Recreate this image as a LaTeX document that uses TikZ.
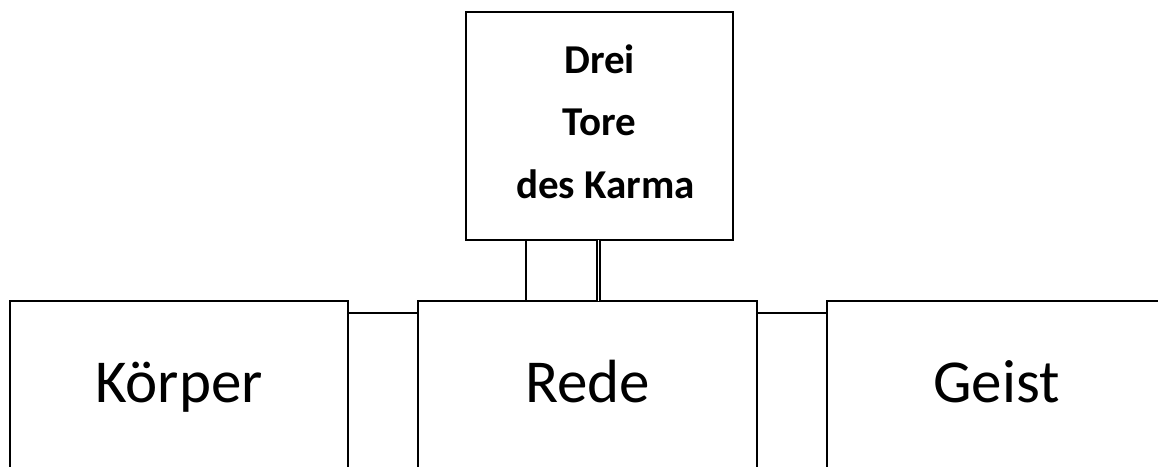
\documentclass[tikz,border=0pt]{standalone}
\usepackage{fontspec}
\setmainfont{Carlito}
\usetikzlibrary{calc}
\begin{document}
\begin{tikzpicture}[x=1pt,y=-1pt,
  box/.style={draw, line width=2pt, inner sep=0pt, outer sep=0pt},
  big/.style={box, anchor=north west, minimum width=339pt,
    font=\fontsize{61}{73}\selectfont, text height=101pt, text depth=200pt},
  link/.style={line width=1.8pt},
  dlink/.style={line width=1.5pt, double, double distance=1.6pt}]
\useasboundingbox (0,0) rectangle (1158,466);
\clip (0,0) rectangle (1158,466);
\node[big, minimum width=338pt] (koerper) at (10,301) {Körper};
\node[big] (rede) at (418,301) {Rede};
\node[big] (geist) at (827,301) {Geist};
\node[box, anchor=north, minimum width=267pt, align=center,
  font=\bfseries\fontsize{41}{62.5}\selectfont,
  text height=186pt, text depth=42pt] (tore) at (599.5,12) {Drei\\Tore\\\hspace*{12pt}des Karma};
\coordinate (g1) at ($(tore.south)+(-73.5,0)$);
\coordinate (g2) at ($(tore.south)+(-1.2,0)$);
\draw[link] (g1) -- (g1 |- rede.north);
\draw[dlink] (g2) -- (g2 |- rede.north);
\draw[link] ($(koerper.north east)+(0,12)$) -- ($(rede.north west)+(0,12)$);
\draw[link] ($(rede.north east)+(0,12)$) -- ($(geist.north west)+(0,12)$);
\end{tikzpicture}
\end{document}
